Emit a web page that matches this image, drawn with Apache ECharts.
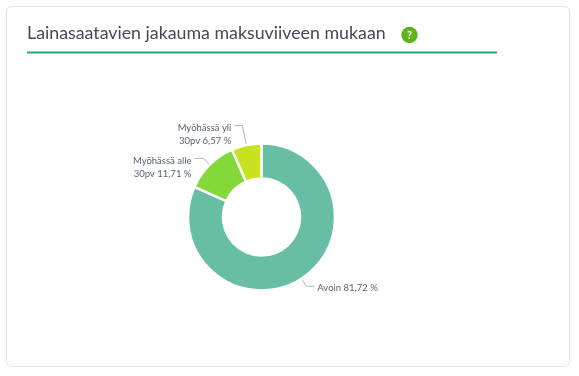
<!DOCTYPE html>
<html>
<head>
<meta charset="utf-8">
<style>
  html, body { margin: 0; padding: 0; background: #fff; }
  #chart { width: 579px; height: 376px; }
</style>
</head>
<body>
<div id="chart"></div>
<script src="https://cdn.jsdelivr.net/npm/echarts@6/dist/echarts.min.js"></script>
<script>
const categories = ['Avoin', 'Myöhässä alle\n30pv', 'Myöhässä yli\n30pv'];
const shares = [81.72, 11.71, 6.57];
const colors = ['#68bea5', '#84d93a', '#c8e21f'];

// guide line lengths per slice, [from the slice, horizontal part]
const guides = [[9, 8], [9, 9], [20, 8]];

const chart = echarts.init(document.getElementById('chart'));
const fontFamily = 'Lato, "Open Sans", sans-serif';

const fi = (value) => value.toFixed(2).replace('.', ',') + ' %';

chart.setOption({
  animation: false,
  backgroundColor: '#fff',
  title: {
    text: 'Lainasaatavien jakauma maksuviiveen mukaan',
    left: 27,
    top: 24,
    padding: 0,
    textStyle: { color: '#444a55', fontSize: 17.8, fontWeight: 'normal', fontFamily }
  },
  graphic: [
    {
      type: 'rect', z: -1,
      shape: { x: 6.5, y: 6.5, width: 563, height: 360, r: 5 },
      style: { fill: '#fff', stroke: '#e4e4e4', lineWidth: 1 }
    },
    {
      type: 'rect',
      shape: { x: 27, y: 51.5, width: 470, height: 2 },
      style: { fill: '#2f9f88' }
    },
    {
      type: 'circle',
      shape: { cx: 409.5, cy: 35, r: 8.2 },
      style: { fill: '#5cb31d' }
    },
    {
      type: 'text', x: 409.5, y: 35,
      style: {
        text: '?', fill: '#fff', fontSize: 11, fontWeight: 'bold', fontFamily,
        textAlign: 'center', textVerticalAlign: 'middle'
      }
    }
  ],
  series: [
    {
      type: 'pie',
      center: [261.5, 217],
      radius: [38.5, 73.5],
      startAngle: 90,
      clockwise: true,
      avoidLabelOverlap: false,
      itemStyle: { borderColor: '#fff', borderWidth: 2.5 },
      data: categories.map((name, i) => ({
        name,
        value: shares[i],
        itemStyle: { color: colors[i] },
        labelLine: { length: guides[i][0], length2: guides[i][1] }
      })),
      label: {
        color: '#5a6270',
        fontSize: 9.5,
        lineHeight: 13.5,
        fontFamily,
        distanceToLabelLine: 3,
        formatter: (params) => params.name + ' ' + fi(params.value)
      },
      // the guide line meets the first line of a two line label
      labelLayout: (params) => ({ dy: params.dataIndex > 0 ? 9 : 1.5 }),
      labelLine: {
        lineStyle: { color: '#b5b5b5', width: 1 }
      }
    }
  ]
});
</script>
</body>
</html>
